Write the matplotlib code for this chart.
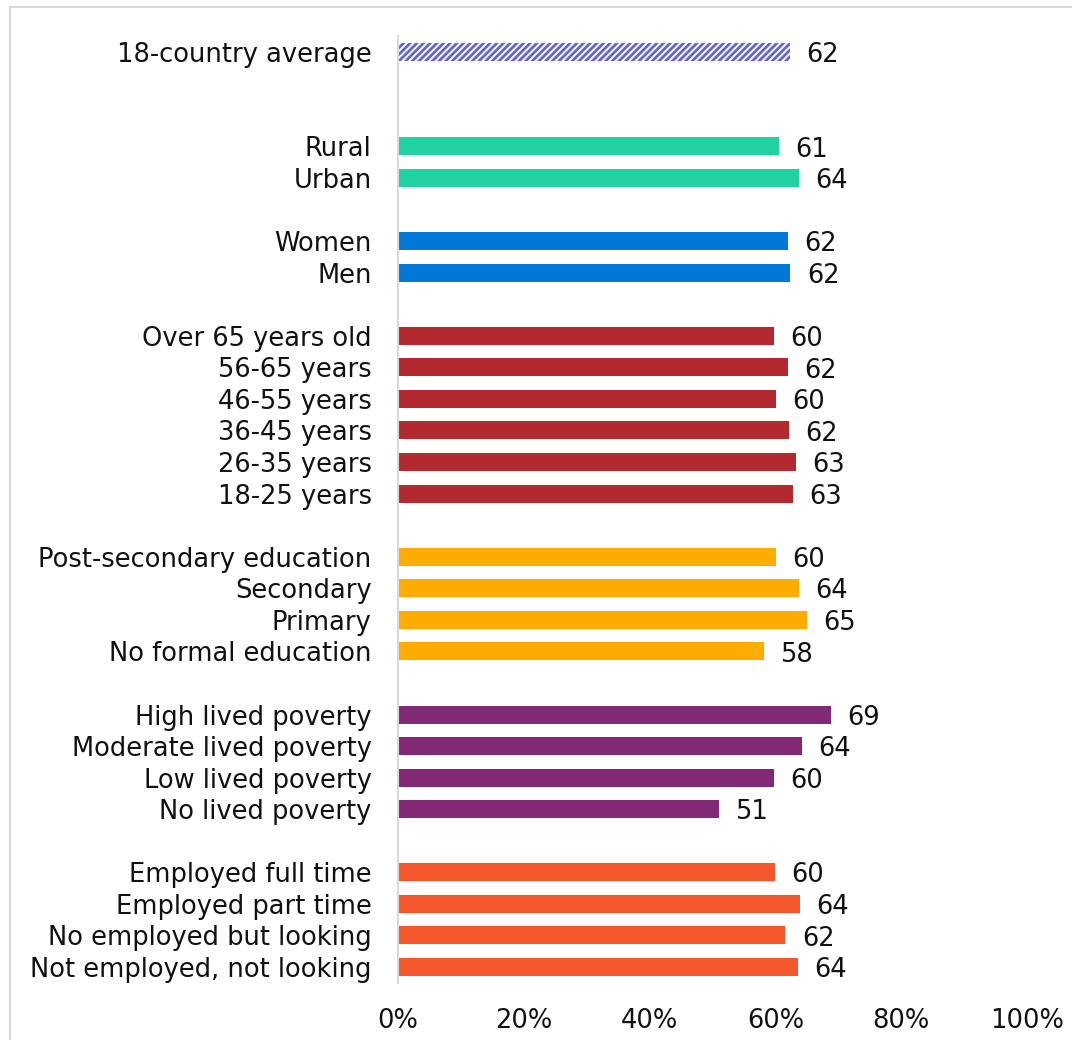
import matplotlib
matplotlib.use("Agg")
import matplotlib.pyplot as plt
from matplotlib.lines import Line2D

# categories top to bottom, with their row positions (gaps between groups)
labels = ["18-country average",
          "Rural", "Urban",
          "Women", "Men",
          "Over 65 years old", "56-65 years", "46-55 years", "36-45 years", "26-35 years", "18-25 years",
          "Post-secondary education", "Secondary", "Primary", "No formal education",
          "High lived poverty", "Moderate lived poverty", "Low lived poverty", "No lived poverty",
          "Employed full time", "Employed part time", "No employed but looking", "Not employed, not looking"]
rows = [0, 3, 4, 6, 7, 9, 10, 11, 12, 13, 14, 16, 17, 18, 19, 21, 22, 23, 24, 26, 27, 28, 29]
values = [62.3,
          60.6, 63.8,
          62.0, 62.4,
          59.8, 62.0, 60.1, 62.2, 63.3, 62.8,
          60.1, 63.8, 65.0, 58.2,
          68.8, 64.2, 59.8, 51.0,
          59.9, 63.9, 61.6, 63.6]
groups = ["avg", "loc", "loc", "sex", "sex",
          "age", "age", "age", "age", "age", "age",
          "edu", "edu", "edu", "edu",
          "pov", "pov", "pov", "pov",
          "emp", "emp", "emp", "emp"]
group_colors = {"avg": "#6464D8", "loc": "#22D1A0", "sex": "#0078D7", "age": "#B4292F",
                "edu": "#FFAB00", "pov": "#832877", "emp": "#F4572B"}
xticks = [0, 20, 40, 60, 80, 100]

plt.rcParams['font.family'] = ['DejaVu Sans']
plt.rcParams['hatch.linewidth'] = 2.0
fs = 18.5

fig = plt.figure(figsize=(10.72, 10.40), dpi=100)
ax = fig.add_axes([0.3713, 0.055, 0.958 - 0.3713, 0.9654 - 0.055])

for lab, r, v, g in zip(labels, rows, values, groups):
    if g == "avg":
        # average bar is drawn hatched
        ax.barh(r, v, height=0.57, color="white", edgecolor=group_colors[g],
                hatch="/////", linewidth=0)
    else:
        ax.barh(r, v, height=0.57, color=group_colors[g], linewidth=0)
    ax.text(v + 2.6, r + 0.1, f"{v:.0f}", va="center", ha="left", fontsize=fs, color="#111111")

ax.set_ylim(29.5, -0.5)
ax.set_xlim(0, 100)
ax.set_yticks(rows)
ax.set_yticklabels(labels, fontsize=fs, color="#111111")
ax.set_xticks(xticks)
ax.set_xticklabels([f"{t}%" for t in xticks], fontsize=fs, color="#111111")
ax.tick_params(axis="y", length=0, pad=19)
ax.tick_params(axis="x", length=0, pad=18)
for s in ["top", "right", "bottom"]:
    ax.spines[s].set_visible(False)
ax.spines["left"].set_color("#D9D9D9")
ax.spines["left"].set_linewidth(1.5)

# outer frame (only top and left visible)
fig.add_artist(Line2D([0.009, 1.0], [0.9935, 0.9935], color="#D9D9D9", lw=1.5))
fig.add_artist(Line2D([0.009, 0.009], [0.0, 0.9935], color="#D9D9D9", lw=1.5))

fig.savefig("out.png", dpi=100)
